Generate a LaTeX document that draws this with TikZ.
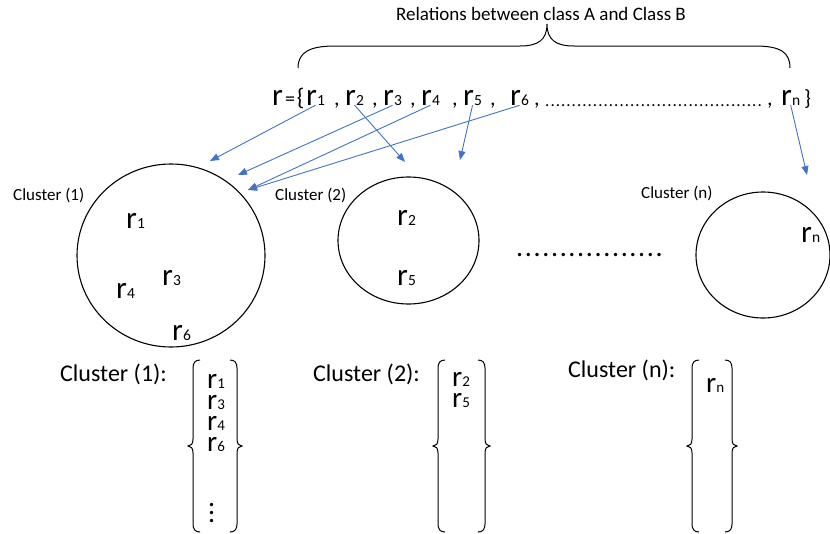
\documentclass[tikz,border=0pt]{standalone}
\usepackage{fontspec}
\setmainfont{Carlito}
\usepackage{xcolor}
\definecolor{azulFlecha}{HTML}{4472C4}
\usetikzlibrary{arrows.meta,positioning,shapes.geometric}
\newcommand{\relr}[1]{{\fontsize{31}{31}\selectfont r}{\fontsize{15.5}{15.5}\selectfont #1}}
\newcommand{\memr}[1]{{\fontsize{29}{29}\selectfont r}{\fontsize{15}{15}\selectfont #1}}
\newcommand{\filapuntos}[1]{\foreach \i in {1,...,#1}{.\hfil}}
\newcommand{\vpuntos}{\vbox{\fontsize{28}{7.7}\selectfont\lineskiplimit=-20pt\hbox{.}\hbox{.}\hbox{.}}}

\begin{document}
\begin{tikzpicture}[x=1pt,y=-1pt,
  clus/.style={draw,ellipse,line width=1.1pt,inner sep=0pt},
  arr/.style={draw=azulFlecha,line width=0.9pt,-{Triangle[length=9pt,width=7pt]}},
  txt/.style={anchor=base west,inner sep=0pt},
  small/.style={txt,font=\fontsize{17}{17}\selectfont},
  head/.style={txt,font=\fontsize{24}{24}\selectfont},
  sym/.style={txt,font=\fontsize{22}{22}\selectfont},
  lista/.style={anchor=north west,inner sep=0pt,align=left,font=\fontsize{29}{21}\selectfont},
  brk/.pic={\draw[line width=1pt] (12,-86) .. controls (7,-86) and (5,-83) .. (5,-78)
    -- (5,-7) .. controls (5,-2) and (3,0) .. (0,0) .. controls (3,0) and (5,2) .. (5,7)
    -- (5,78) .. controls (5,83) and (7,86) .. (12,86);}]
  \useasboundingbox (0,0) rectangle (830,533);
  % titulo y llave
  \node[inner sep=0pt,font=\fontsize{19}{19}\selectfont] (titulo) at (541,14) {Relations between class A and Class B};
  \draw[line width=1pt] (298,68) .. controls (298,52) and (310,46) .. (335,46) -- (520,46)
    .. controls (538,46) and (547,40) .. (547,24) .. controls (547,40) and (556,46) .. (574,46)
    -- (755,46) .. controls (780,46) and (790,52) .. (790,68);
  % conjunto de relaciones
  \node[txt] (rset) at (272,105) {{\fontsize{31}{31}\selectfont r}\hspace{2pt}{\fontsize{20}{20}\selectfont=}\hspace{2pt}{\fontsize{24}{24}\selectfont\{}};
  \node[txt] (r1) at (306,105) {\relr{1}};
  \node[sym] (s1) at (334,105) {,};
  \node[txt] (r2) at (345,105) {\relr{2}};
  \node[sym] (s2) at (372,105) {,};
  \node[txt] (r3) at (383,105) {\relr{3}};
  \node[sym] (s3) at (410,105) {,};
  \node[txt] (r4) at (421,105) {\relr{4}};
  \node[sym] (s4) at (452,105) {,};
  \node[txt] (r5) at (463,105) {\relr{5}};
  \node[sym] (s5) at (490,105) {,};
  \node[txt] (r6) at (510,105) {\relr{6}};
  \node[sym] (s6) at (534,105) {,};
  \node[txt,font=\fontsize{17}{17}\selectfont] (dotsTop) at (545,106)
    {\makebox[219pt][l]{\filapuntos{41}}};
  \node[sym] (s7) at (767,105) {,};
  \node[txt] (rn) at (781,105) {\relr{n}};
  \node[sym] (cierre) at (804,105) {\}};
  % clusters
  \node[clus,minimum width=188pt,minimum height=183pt] (c1) at (171,255.5) {};
  \node[clus,minimum width=141pt,minimum height=127pt] (c2) at (408.5,240.5) {};
  \node[clus,minimum width=134pt,minimum height=126pt] (cn) at (763,255) {};
  \node[small] (l1) at (13,200) {Cluster (1)};
  \node[small] (l2) at (275,200) {Cluster (2)};
  \node[small] (ln) at (641,198) {Cluster (n)};
  \node[txt] (c1r1) at (126,228) {\relr{1}};
  \node[txt] (c1r3) at (162,285) {\relr{3}};
  \node[txt] (c1r4) at (116,298) {\relr{4}};
  \node[txt] (c1r6) at (172,340) {\relr{6}};
  \node[txt] (c2r2) at (397,225) {\relr{2}};
  \node[txt] (c2r5) at (397,285) {\relr{5}};
  \node[txt] (cnrn) at (801,242) {\relr{n}};
  \node[txt,font=\fontsize{28}{28}\selectfont] (puntos) at (516,256)
    {\makebox[150pt][l]{\filapuntos{17}}};
  % flechas
  \coordinate (a1) at (210,161);
  \coordinate (a2) at (238,175);
  \coordinate (a3) at (248,190);
  \coordinate (b1) at (405,162);
  \coordinate (b2) at (460,160);
  \coordinate (z1) at (807,175);
  \draw[arr] (r1.south) -- (a1);
  \draw[arr] (r2.south) -- (b1);
  \draw[arr] (r3.south) -- (a2);
  \draw[arr] (r4.south) -- (a3);
  \draw[arr] (r5.south) -- (b2);
  \draw[arr] (r6.south) -- (a3);
  \draw[arr] (rn.south) -- (z1);
  % listas de miembros
  \node[head] (k1) at (60,381) {Cluster (1):};
  \node[head] (k2) at (313,381) {Cluster (2):};
  \node[head] (kn) at (568,377) {Cluster (n):};
  \pic at (188,446) {brk};
  \pic[xscale=-1] at (242,446) {brk};
  \pic at (433,446) {brk};
  \pic[xscale=-1] at (490,446) {brk};
  \pic at (687,446) {brk};
  \pic[xscale=-1] at (737,446) {brk};
  \node[lista] (m1) at (207,374) {\memr{1}\\\memr{3}\\\memr{4}\\\memr{6}\\[50pt]\hspace{1pt}\vpuntos};
  \node[lista] (m2) at (452,372) {\memr{2}\\\memr{5}};
  \node[lista] (mn) at (706,378) {\memr{n}};
\end{tikzpicture}
\end{document}
